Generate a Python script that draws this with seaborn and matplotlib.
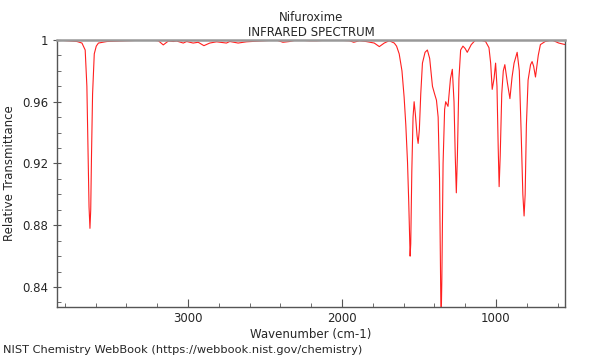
import numpy as np
import pandas as pd
import matplotlib
matplotlib.use("Agg")
import matplotlib.pyplot as plt
import seaborn as sns
from matplotlib.ticker import MultipleLocator

# wavenumber (cm-1) and relative transmittance
wavenumber = [3848, 3780, 3720, 3688, 3667, 3656, 3648, 3642, 3636, 3631, 3626, 3619, 3608, 3595, 3581,
              3526, 3400, 3246, 3192, 3160, 3127, 3095, 3073, 3030, 3008, 2966, 2933,
              2896, 2858, 2814, 2750, 2728, 2674, 2620, 2555, 2426, 2383, 2340, 2296,
              2210, 2167, 2059, 1951, 1923, 1887, 1843, 1790, 1757, 1725, 1693, 1660,
              1645, 1628, 1610, 1596, 1585, 1574, 1566, 1560, 1557, 1553, 1546, 1538, 1531, 1523, 1512,
              1505, 1497, 1488, 1477, 1460, 1445, 1430, 1412, 1398, 1386, 1375, 1366, 1360, 1356, 1351,
              1343, 1333, 1326, 1311, 1295, 1283, 1272, 1264, 1257, 1250, 1240, 1229, 1214, 1200,
              1186, 1160, 1132, 1100, 1067, 1045, 1034, 1024, 1012, 1002, 993, 985, 979, 972, 962,
              952, 942, 925, 909, 895, 882, 862, 848, 836, 825, 817, 810, 802, 791, 775, 765, 755,
              743, 725, 711, 680, 636, 592, 550]
transmittance = [1.000, 0.9995, 0.999, 0.998, 0.9935, 0.970, 0.925, 0.892, 0.878, 0.890, 0.925, 0.965, 0.991, 0.996, 0.998,
                 0.999, 0.9995, 1.000, 0.9995, 0.9968, 0.9993, 0.999, 0.9993, 0.998, 0.999, 0.998, 0.9985,
                 0.9963, 0.998, 0.9988, 0.998, 0.999, 0.998, 0.9988, 0.9992, 1.000, 0.9985, 0.999, 1.000,
                 0.9995, 0.9995, 1.000, 0.9995, 0.9985, 0.9995, 0.999, 0.998, 0.9957, 0.998, 0.9995, 0.998,
                 0.996, 0.991, 0.980, 0.963, 0.945, 0.921, 0.895, 0.870, 0.860, 0.868, 0.915, 0.950, 0.960, 0.952, 0.938,
                 0.933, 0.942, 0.965, 0.985, 0.992, 0.9935, 0.988, 0.970, 0.965, 0.961, 0.950, 0.910, 0.850, 0.815, 0.845,
                 0.920, 0.955, 0.960, 0.957, 0.975, 0.981, 0.960, 0.925, 0.901, 0.925, 0.975, 0.9935, 0.996, 0.9945,
                 0.992, 0.997, 1.000, 1.000, 0.999, 0.995, 0.985, 0.968, 0.975, 0.985, 0.970, 0.930, 0.905, 0.925, 0.965,
                 0.980, 0.984, 0.972, 0.962, 0.976, 0.985, 0.992, 0.980, 0.940, 0.900, 0.886, 0.900, 0.945, 0.974, 0.984, 0.986, 0.983,
                 0.976, 0.990, 0.997, 0.999, 1.000, 0.998, 0.997]

df = pd.DataFrame({"wavenumber": wavenumber, "transmittance": transmittance})

sns.set_style("ticks")
plt.rcParams['font.family'] = ['DejaVu Sans']

fig = plt.figure(figsize=(6, 3.6), dpi=100)
ax = fig.add_axes([0.095, 0.147, 0.847, 0.742])
sns.lineplot(data=df, x="wavenumber", y="transmittance", ax=ax,
             color="#ff2020", linewidth=0.8, sort=False)

ax.set_xlim(3850, 550)
ax.set_ylim(0.827, 1.0)
ax.set_xticks([3000, 2000, 1000])
ax.xaxis.set_minor_locator(MultipleLocator(200))
ax.set_yticks([0.84, 0.88, 0.92, 0.96, 1.0])
ax.set_yticklabels(["0.84", "0.88", "0.92", "0.96", "1"])
ax.yaxis.set_minor_locator(MultipleLocator(0.01))
ax.tick_params(axis="x", which="both", direction="in", labelsize=8.5, color="#555555")
ax.tick_params(axis="x", which="major", length=6)
ax.tick_params(axis="x", which="minor", length=3)
ax.tick_params(axis="y", which="major", direction="inout", length=6, labelsize=8.5, color="#555555")
ax.tick_params(axis="y", which="minor", direction="in", length=3, color="#555555")

ax.spines["top"].set_color("#999999")
ax.spines["top"].set_linewidth(1.8)
for s in ["left", "right", "bottom"]:
    ax.spines[s].set_color("#555555")
    ax.spines[s].set_linewidth(1.0)

ax.set_xlabel("Wavenumber (cm-1)", fontsize=8.5, labelpad=2)
ax.set_ylabel("Relative Transmittance", fontsize=8.5)
ax.set_title("Nifuroxime\nINFRARED SPECTRUM", fontsize=8.5, pad=3)
fig.text(0.005, 0.02, "NIST Chemistry WebBook (https://webbook.nist.gov/chemistry)", fontsize=8.2)

fig.savefig("out.png", dpi=100)
